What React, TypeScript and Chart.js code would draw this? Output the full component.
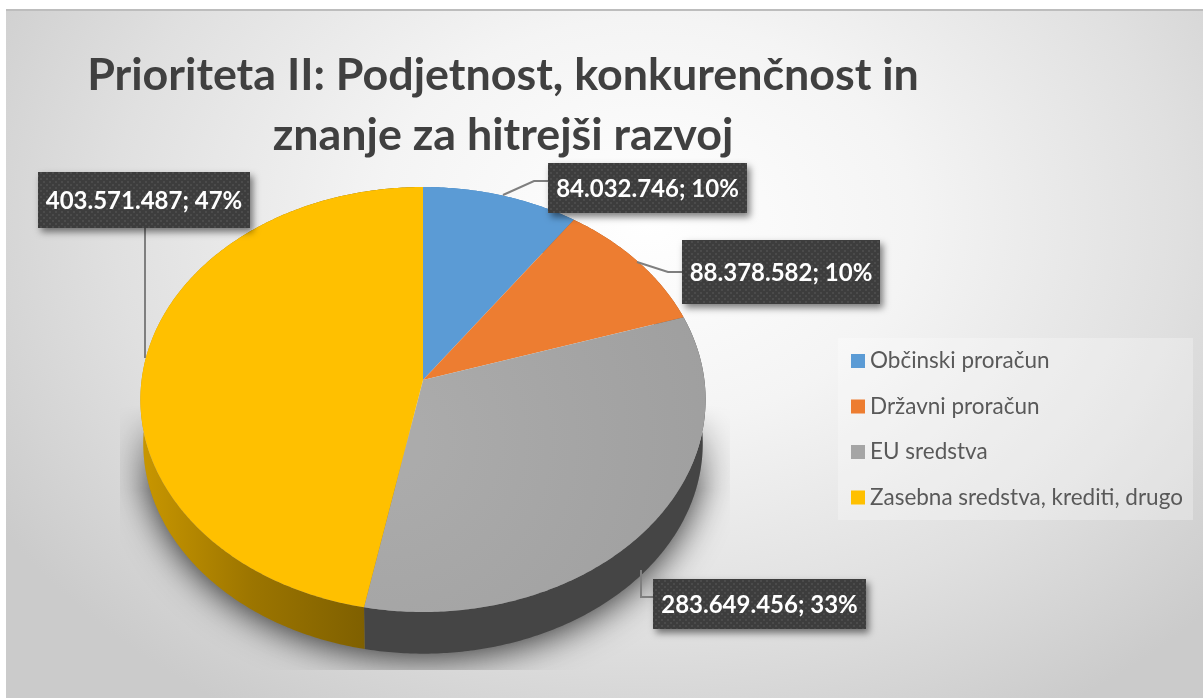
import React, { useEffect, useRef } from "react";
import { Chart, registerables } from "chart.js";

Chart.register(...registerables);

const categories = ["Občinski proračun", "Državni proračun", "EU sredstva", "Zasebna sredstva, krediti, drugo"];
const values = [84032746, 88378582, 283649456, 403571487];
const sliceColors = ["#5B9BD5", "#ED7D31", "#A5A5A5", "#FFC000"];
const sideColors = ["#2E75B6", "#9E480E", "#454545", "#7F6000"];
const titleLines = ["Prioriteta II: Podjetnost, konkurenčnost in", "znanje za hitrejši razvoj"];

const FONT = "Lato, 'Open Sans', sans-serif";
const PERSPECTIVE = 0.0918;
const SCALE_X = 1.458;
const SCALE_Y = 1.0917;
const DEPTH = 44;
const BOTTOM_SCALE = 0.99;

// label box rectangles [x, y, w, h] and leader polylines, in slice order
const labelBoxes = [
  [548, 163, 199, 50],
  [682, 240, 198, 64],
  [653, 579, 213, 50],
  [38, 172, 212, 56],
];
const leaders = [
  [[503, 195], [534, 181], [548, 181]],
  [[637, 262], [668, 272], [682, 272]],
  [[641, 570], [641, 597], [653, 597]],
  [[145, 358], [145, 228]],
];

function project(cx: number, cy: number, r: number, theta: number, scale = 1, dy = 0) {
  const u = Math.cos(theta);
  const v = -Math.sin(theta);
  const w = 1 + PERSPECTIVE * v;
  return [cx + (scale * SCALE_X * r * u) / w, cy + dy - (scale * SCALE_Y * r * v) / w];
}

function rimPoints(cx: number, cy: number, r: number, a: number, b: number, scale = 1, dy = 0) {
  const n = Math.max(2, Math.ceil(Math.abs(b - a) / 0.01));
  const pts: number[][] = [];
  for (let i = 0; i <= n; i++) pts.push(project(cx, cy, r, a + ((b - a) * i) / n, scale, dy));
  return pts;
}

function tracePolygon(ctx: CanvasRenderingContext2D, pts: number[][]) {
  ctx.beginPath();
  pts.forEach((p, i) => (i ? ctx.lineTo(p[0], p[1]) : ctx.moveTo(p[0], p[1])));
  ctx.closePath();
}

function labelText(i: number) {
  const total = values.reduce((s, x) => s + x, 0);
  const num = String(values[i]).replace(/\B(?=(\d{3})+(?!\d))/g, ".");
  return `${num}; ${Math.round((values[i] / total) * 100)}%`;
}

function dotPattern(ctx: CanvasRenderingContext2D) {
  const c = document.createElement("canvas");
  c.width = 6;
  c.height = 6;
  const p = c.getContext("2d")!;
  p.fillStyle = "#3d3d3d";
  p.fillRect(0, 0, 6, 6);
  p.fillStyle = "#4b4b4b";
  p.fillRect(1, 1, 2, 2);
  p.fillRect(4, 4, 2, 2);
  return ctx.createPattern(c, "repeat")!;
}

function drawShadow(ctx: CanvasRenderingContext2D, cx: number, cy: number, r: number) {
  const off = document.createElement("canvas");
  off.width = ctx.canvas.width;
  off.height = ctx.canvas.height;
  const o = off.getContext("2d")!;
  o.save();
  o.beginPath();
  o.rect(120, 400, 610, 270);
  o.clip();
  o.shadowColor = "rgba(0,0,0,0.8)";
  o.shadowBlur = 36;
  o.shadowOffsetY = 4;
  o.fillStyle = "#777";
  tracePolygon(o, rimPoints(cx, cy, r, 0, Math.PI * 2, BOTTOM_SCALE, DEPTH));
  o.fill();
  o.restore();
  // fade the shadow out towards the top
  o.globalCompositeOperation = "destination-in";
  const fade = o.createLinearGradient(0, 405, 0, 490);
  fade.addColorStop(0, "rgba(0,0,0,0)");
  fade.addColorStop(1, "rgba(0,0,0,1)");
  o.fillStyle = fade;
  o.fillRect(0, 0, off.width, off.height);
  ctx.drawImage(off, 0, 0);
}

const pie3d = {
  id: "pie3d",
  beforeDatasetDraw(chart: any) {
    const ctx: CanvasRenderingContext2D = chart.ctx;
    const arcs = chart.getDatasetMeta(0).data;
    const { x: cx, y: cy, outerRadius: r } = arcs[0].getProps(["x", "y", "outerRadius"], true);

    drawShadow(ctx, cx, cy, r);

    // side wall
    arcs.forEach((arc: any, i: number) => {
      const { startAngle, endAngle } = arc.getProps(["startAngle", "endAngle"], true);
      const top = rimPoints(cx, cy, r, startAngle, endAngle);
      const bottom = rimPoints(cx, cy, r, endAngle, startAngle, BOTTOM_SCALE, DEPTH);
      tracePolygon(ctx, top.concat(bottom));
      if (i === 3) {
        const g = ctx.createLinearGradient(140, 0, 364, 0);
        g.addColorStop(0, "#C99700");
        g.addColorStop(0.5, "#9C7500");
        g.addColorStop(1, sideColors[i]);
        ctx.fillStyle = g;
      } else {
        ctx.fillStyle = sideColors[i];
      }
      ctx.fill();
    });

    // top face
    arcs.forEach((arc: any, i: number) => {
      const { startAngle, endAngle } = arc.getProps(["startAngle", "endAngle"], true);
      tracePolygon(ctx, [[cx, cy], ...rimPoints(cx, cy, r, startAngle, endAngle)]);
      if (i === 2) {
        const g = ctx.createRadialGradient(cx - 40, cy + 60, 40, cx - 40, cy + 60, 340);
        g.addColorStop(0, "#ABABAB");
        g.addColorStop(1, "#9F9F9F");
        ctx.fillStyle = g;
      } else {
        ctx.fillStyle = sliceColors[i];
      }
      ctx.fill();
    });
    return false;
  },
  afterDatasetsDraw(chart: any) {
    const ctx: CanvasRenderingContext2D = chart.ctx;
    ctx.save();
    // leader lines
    ctx.strokeStyle = "#7F7F7F";
    ctx.lineWidth = 2;
    leaders.forEach((pts) => {
      ctx.beginPath();
      pts.forEach((p, i) => (i ? ctx.lineTo(p[0], p[1]) : ctx.moveTo(p[0], p[1])));
      ctx.stroke();
    });
    // data labels
    const pattern = dotPattern(ctx);
    labelBoxes.forEach((b, i) => {
      ctx.save();
      ctx.shadowColor = "rgba(0,0,0,0.5)";
      ctx.shadowBlur = 7;
      ctx.shadowOffsetX = 3;
      ctx.shadowOffsetY = 4;
      ctx.fillStyle = pattern;
      ctx.fillRect(b[0], b[1], b[2], b[3]);
      ctx.restore();
      ctx.fillStyle = "#FFFFFF";
      ctx.font = `bold 24px ${FONT}`;
      ctx.textAlign = "center";
      ctx.textBaseline = "middle";
      ctx.fillText(labelText(i), b[0] + b[2] / 2, b[1] + b[3] / 2 + 1);
    });

    // title
    ctx.fillStyle = "#404040";
    ctx.font = `bold 44.8px ${FONT}`;
    ctx.textAlign = "center";
    ctx.textBaseline = "middle";
    titleLines.forEach((t, i) => ctx.fillText(t, 503, 76 + i * 60));

    // legend
    ctx.fillStyle = "rgba(255,255,255,0.28)";
    ctx.fillRect(838, 338, 355, 182);
    categories.forEach((c, i) => {
      const y = 361 + i * 45.5;
      ctx.fillStyle = sliceColors[i];
      ctx.fillRect(851, y - 7, 14, 14);
      ctx.fillStyle = "#595959";
      ctx.font = `22.5px ${FONT}`;
      ctx.textAlign = "left";
      ctx.textBaseline = "middle";
      ctx.fillText(c, 870, y);
    });
    ctx.restore();
  },
};

export default function App() {
  const ref = useRef<HTMLCanvasElement>(null);
  useEffect(() => {
    const chart = new Chart(ref.current!, {
      type: "pie",
      data: {
        labels: categories,
        datasets: [{ data: values, backgroundColor: sliceColors, borderWidth: 0 }],
      },
      options: {
        responsive: false,
        animation: false,
        events: [],
        layout: { padding: { left: 230, right: 587, top: 187, bottom: 125 } },
        plugins: { legend: { display: false }, title: { display: false }, tooltip: { enabled: false } },
      },
      plugins: [pie3d],
    } as any);
    return () => chart.destroy();
  }, []);
  return (
    <div style={{ position: "fixed", left: 0, top: 0, width: 1203, height: 698, background: "#fff", overflow: "hidden" }}>
      <div
        style={{
          position: "absolute",
          left: 6,
          top: 9,
          width: 1197,
          height: 689,
          borderTop: "2px solid #BDBDBD",
          boxSizing: "border-box",
          background: "radial-gradient(ellipse 760px 580px at 640px 210px, #FFFFFF 0%, #F4F4F4 35%, #E0E0E0 70%, #CBCBCB 100%)",
        }}
      />
      <canvas ref={ref} width={1203} height={698} style={{ position: "absolute", left: 0, top: 0, display: "block", filter: "blur(0.4px)" }} />
    </div>
  );
}
